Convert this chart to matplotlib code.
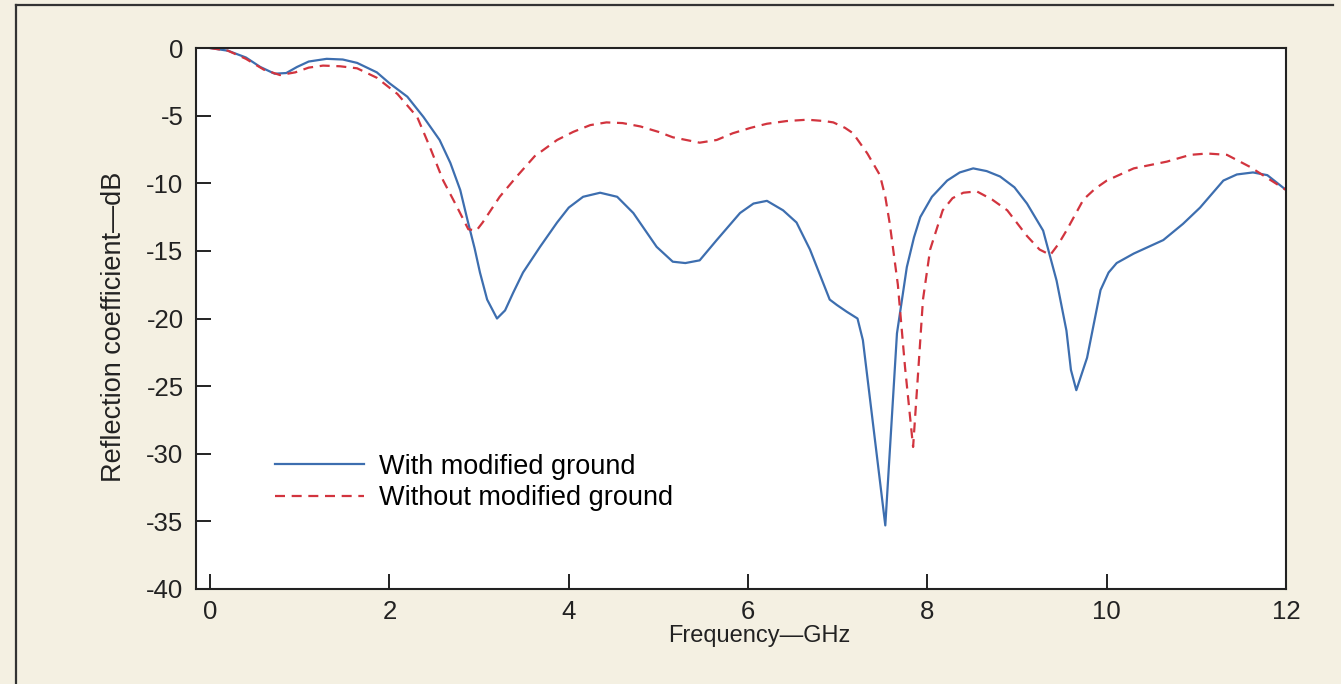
import matplotlib.pyplot as plt
from matplotlib.lines import Line2D

plt.rcParams['font.family'] = ['Liberation Sans', 'DejaVu Sans']
plt.rcParams['axes.unicode_minus'] = False

# reflection coefficient with the modified ground plane (GHz, dB)
freq_with = [0.0, 0.2, 0.4, 0.56, 0.72, 0.85, 0.97, 1.1, 1.30, 1.48, 1.64, 1.86,
             2.0, 2.20, 2.38, 2.56, 2.68, 2.79, 2.87, 2.95, 3.01, 3.09, 3.20,
             3.29, 3.38, 3.49, 3.68, 3.87, 4.0, 4.16, 4.35, 4.54, 4.72, 4.98,
             5.16, 5.30, 5.46, 5.65, 5.91, 6.06, 6.21, 6.39, 6.54, 6.69, 6.91,
             6.99, 7.10, 7.22, 7.28, 7.53, 7.66, 7.77, 7.85, 7.92, 8.05, 8.22,
             8.36, 8.51, 8.66, 8.81, 8.97, 9.11, 9.29, 9.44, 9.55, 9.60, 9.66,
             9.78, 9.93, 10.02, 10.11, 10.30, 10.63, 10.85, 11.04, 11.30, 11.45,
             11.63, 11.79, 12.0]
s11_with = [0.0, -0.2, -0.7, -1.4, -1.9, -1.85, -1.4, -1.0, -0.8, -0.85, -1.1,
            -1.8, -2.6, -3.6, -5.1, -6.8, -8.5, -10.5, -12.7, -14.8, -16.6, -18.6,
            -20.0, -19.4, -18.1, -16.6, -14.7, -12.9, -11.8, -11.0, -10.7, -11.0,
            -12.2, -14.7, -15.8, -15.9, -15.7, -14.2, -12.2, -11.5, -11.3, -12.0,
            -12.9, -14.9, -18.6, -19.0, -19.5, -20.0, -21.6, -35.3, -21.1, -16.2,
            -14.0, -12.5, -11.0, -9.8, -9.2, -8.9, -9.1, -9.5, -10.3, -11.5, -13.5,
            -17.2, -20.9, -23.8, -25.3, -22.9, -17.9, -16.6, -15.9, -15.2, -14.2,
            -13.0, -11.8, -9.8, -9.35, -9.2, -9.4, -10.5]

# reflection coefficient without the modified ground plane (GHz, dB)
freq_without = [0.0, 0.2, 0.4, 0.6, 0.78, 0.95, 1.1, 1.26, 1.45, 1.64, 1.86, 2.09,
                2.31, 2.45, 2.60, 2.75, 2.88, 2.97, 3.04, 3.23, 3.42, 3.62, 3.87,
                4.05, 4.24, 4.42, 4.6, 4.80, 5.0, 5.16, 5.46, 5.65, 5.83, 6.03,
                6.21, 6.43, 6.66, 6.85, 6.95, 7.08, 7.17, 7.33, 7.40, 7.47, 7.53,
                7.58, 7.67, 7.75, 7.84, 7.90, 7.95, 8.03, 8.17, 8.28, 8.40, 8.55,
                8.72, 8.89, 9.11, 9.25, 9.37, 9.46, 9.55, 9.74, 9.87, 10.0, 10.30,
                10.67, 10.93, 11.12, 11.34, 11.60, 11.74, 12.0]
s11_without = [0.0, -0.2, -0.8, -1.6, -2.0, -1.8, -1.45, -1.3, -1.35, -1.5, -2.2,
               -3.4, -5.1, -7.3, -9.8, -11.7, -13.4, -13.5, -12.9, -11.0, -9.5,
               -8.0, -6.8, -6.2, -5.7, -5.5, -5.55, -5.8, -6.2, -6.6, -7.0, -6.8,
               -6.3, -5.9, -5.6, -5.4, -5.3, -5.4, -5.5, -5.9, -6.3, -7.8, -8.6,
               -9.4, -11.0, -13.0, -17.5, -23.6, -29.5, -23.6, -18.6, -14.9, -12.0,
               -11.1, -10.7, -10.6, -11.2, -12.0, -13.9, -14.9, -15.3, -14.5, -13.5,
               -11.2, -10.4, -9.8, -8.9, -8.4, -7.9, -7.8, -7.9, -8.8, -9.4, -10.5]

x_ticks = [0, 2, 4, 6, 8, 10, 12]
y_ticks = [0, -5, -10, -15, -20, -25, -30, -35, -40]

text_color = '#222222'

fig = plt.figure(figsize=(13.41, 6.84), dpi=100, facecolor='#f4f0e2')
ax = fig.add_axes([0.1462, 0.1389, 0.8129, 0.7909])
ax.set_facecolor('white')

ax.plot(freq_with, s11_with, '-', color='#3d6eaf', lw=1.6,
        label='With modified ground')
ax.plot(freq_without, s11_without, '--', color='#d2343e', lw=1.6,
        dashes=(4.5, 3), label='Without modified ground')

ax.set_xlim(-0.156, 12)
ax.set_ylim(-40, 0)
ax.set_xticks(x_ticks)
ax.set_yticks(y_ticks)
ax.tick_params(direction='in', length=11, width=1.4, labelsize=18.5,
               colors=text_color, top=False, right=False)
ax.tick_params(axis='y', pad=9)
ax.tick_params(axis='x', pad=8)
for sp in ax.spines.values():
    sp.set_linewidth(1.5)
    sp.set_color(text_color)

ax.set_xlabel('Frequency\u2014GHz', fontsize=17, color=text_color)
ax.set_ylabel('Reflection coefficient\u2014dB', fontsize=19.5, color=text_color)
ax.xaxis.set_label_coords(0.517, -0.066)
ax.yaxis.set_label_coords(-0.063, 0.484)

ax.legend(loc='upper left', bbox_to_anchor=(0.072, 0.25), frameon=False,
          fontsize=19.5, handlelength=3.3, handletextpad=0.57, labelspacing=0.2,
          borderpad=0, borderaxespad=0)

# outer frame: top and left edges
fig.add_artist(Line2D([16 / 1341, 1333 / 1341], [1 - 5 / 684, 1 - 5 / 684],
                      transform=fig.transFigure, color='#333333', lw=1.6))
fig.add_artist(Line2D([16 / 1341, 16 / 1341], [0, 1 - 5 / 684],
                      transform=fig.transFigure, color='#333333', lw=1.6))

fig.savefig('out.png', dpi=100, facecolor=fig.get_facecolor())
